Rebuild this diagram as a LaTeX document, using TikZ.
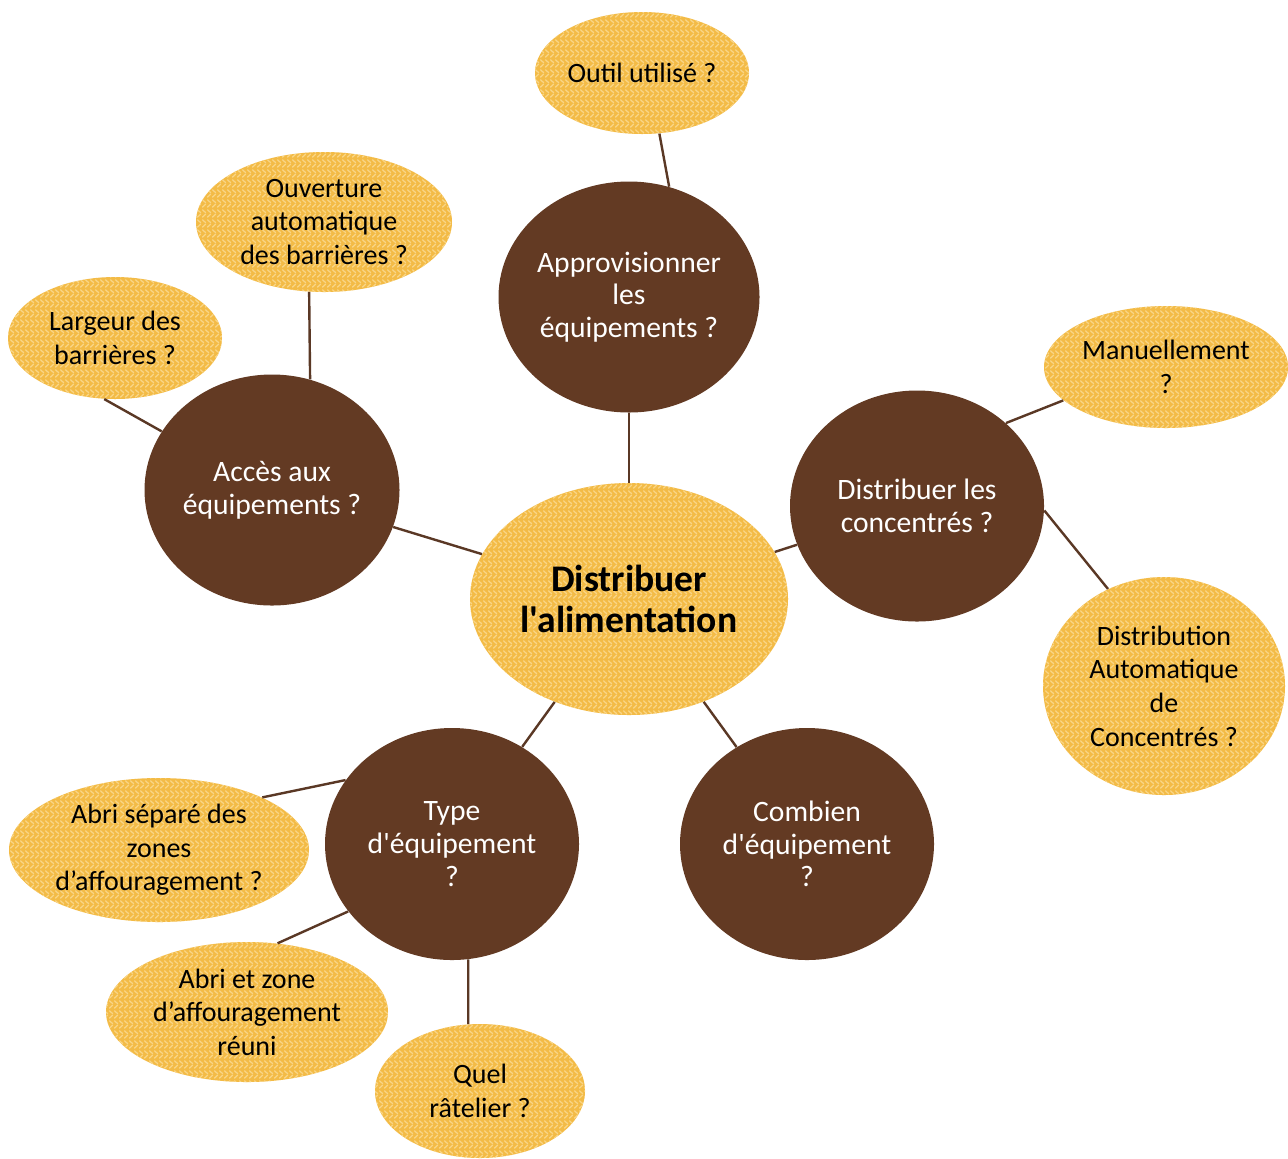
\documentclass[tikz,border=0pt]{standalone}
\usepackage{fontspec}
\setmainfont{Carlito}[Ligatures=TeXOff]
\usetikzlibrary{shapes.geometric,patterns.meta}
\definecolor{brownc}{HTML}{633A23}
\definecolor{yellowc}{HTML}{F3BB46}
\definecolor{yellowl}{HTML}{F9D586}
\definecolor{linec}{HTML}{5A3825}
\tikzdeclarepattern{name=herring, type=uncolored,
  bounding box={(0pt,0pt) and (2.6pt,5pt)}, tile size={(2.6pt,5pt)},
  code={
    \draw[line width=0.7pt,line cap=round] (0.3pt,0.5pt) -- (2.1pt,2.1pt);
    \draw[line width=0.7pt,line cap=round] (0.3pt,4.5pt) -- (2.1pt,2.9pt);
  }}
\tikzset{
  straw/.style={ellipse, fill=yellowc, postaction={pattern=herring, pattern color=yellowl},
    inner sep=0pt, align=center, text=black, font=\fontsize{14}{16.8}\selectfont},
  bubble/.style={ellipse, fill=brownc, inner sep=0pt, align=center, text=white,
    font=\fontsize{14.8}{16.3}\selectfont},
  link/.style={draw=linec, line width=1.2pt},
}
\begin{document}
\begin{tikzpicture}[x=0.5pt,y=-0.5pt]
\useasboundingbox[fill=white] (0,0) rectangle (1288,1158);
% central node
\node[straw, minimum width=159pt, minimum height=116pt, font=\fontsize{18.8}{20.5}\selectfont\bfseries]
  (center) at (629,599) {Distribuer\\l'alimentation};
% brown bubbles
\node[bubble, minimum width=130.5pt, minimum height=115.5pt] (appro) at (629,297) {Approvisionner\\les\\équipements ?};
\node[bubble, minimum width=127.5pt, minimum height=115.5pt] (acces) at (272,490) {Accès aux\\équipements ?};
\node[bubble, minimum width=127pt, minimum height=115.5pt] (conc) at (917,506) {Distribuer les\\concentrés ?};
\node[bubble, minimum width=127pt, minimum height=116pt] (type) at (452,844) {Type\\d'équipement\\?};
\node[bubble, minimum width=127pt, minimum height=116pt] (comb) at (807,844) {Combien\\d'équipement\\?};
% straw ellipses
\node[straw, minimum width=107pt, minimum height=61pt] (outil) at (642,73) {Outil utilisé ?};
\node[straw, minimum width=128pt, minimum height=70pt] (ouv) at (324,222) {Ouverture\\automatique\\des barrières ?};
\node[straw, minimum width=107pt, minimum height=61pt] (larg) at (115,338) {Largeur des\\barrières ?};
\node[straw, minimum width=122pt, minimum height=61pt] (manu) at (1166,367) {Manuellement\\?};
\node[straw, minimum width=121pt, minimum height=109pt] (dist) at (1164,686) {Distribution\\Automatique\\de\\Concentrés ?};
\node[straw, minimum width=150pt, minimum height=72pt] (abri1) at (159,850) {Abri séparé des\\zones\\d’affouragement ?};
\node[straw, minimum width=141pt, minimum height=70pt] (abri2) at (247,1012) {Abri et zone\\d’affouragement\\réuni};
\node[straw, minimum width=105pt, minimum height=67pt] (quel) at (480,1091) {Quel\\râtelier ?};
% connectors
\draw[link] (center) -- (appro);
\draw[link] (appro.70) -- (outil.286);
\draw[link] (center) -- (acces);
\draw[link] (acces.71) -- (ouv.258);
\draw[link] (acces.152) -- (larg.260);
\draw[link] (center) -- (conc);
\draw[link] (conc.43) -- (manu.198);
\draw[link] (conc.358) -- (dist.120);
\draw[link] (center) -- (type);
\draw[link] (center) -- (comb);
\draw[link] (type.149) -- (abri1.27);
\draw[link] (type.213) -- (abri2.66);
\draw[link] (type.278) -- (quel.100);
\end{tikzpicture}
\end{document}
